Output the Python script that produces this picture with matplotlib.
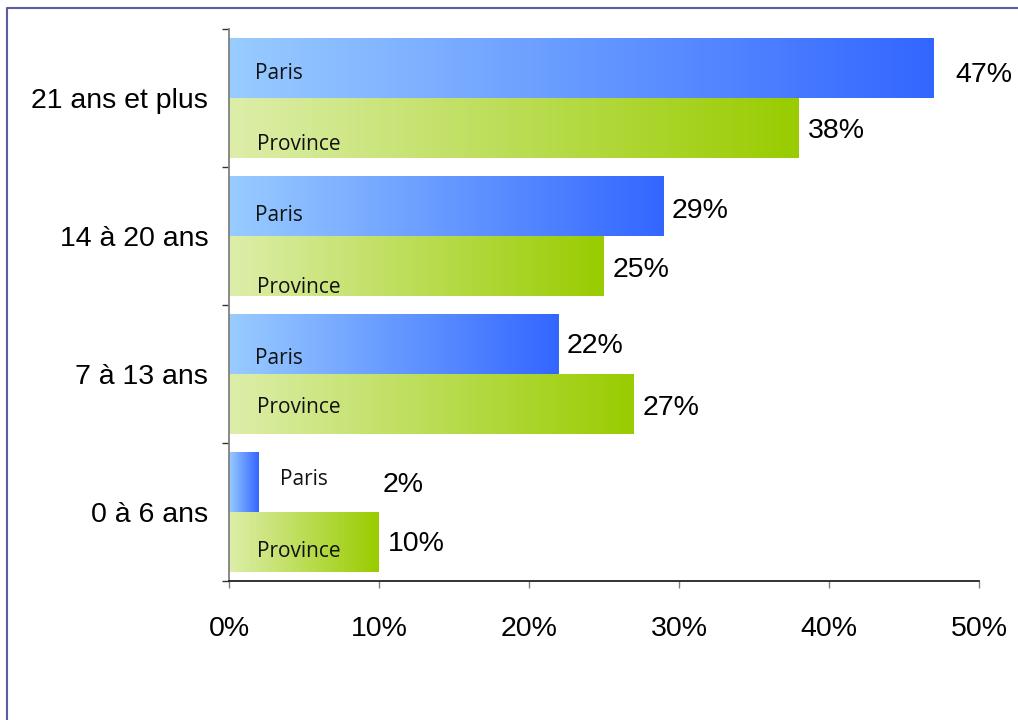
import matplotlib
matplotlib.use('Agg')
import matplotlib.pyplot as plt
import numpy as np
from matplotlib.colors import LinearSegmentedColormap
from matplotlib.lines import Line2D

# ---- data ----
categories = ['0 à 6 ans', '7 à 13 ans', '14 à 20 ans', '21 ans et plus']
paris = [2, 22, 29, 47]
province = [10, 27, 25, 38]
series_names = ['Paris', 'Province']
xticks = [0, 10, 20, 30, 40, 50]
xtick_labels = ['0%', '10%', '20%', '30%', '40%', '50%']

# ---- style ----
W, H = 1018, 720
fig = plt.figure(figsize=(W / 100, H / 100), dpi=100)
ax = fig.add_axes([229 / W, 1 - 581 / H, 750 / W, 552 / H])

cmap_p = LinearSegmentedColormap.from_list('p', ['#99ccff', '#3366ff'])
cmap_v = LinearSegmentedColormap.from_list('v', ['#ddeeaa', '#99cc00'])

ypos = np.arange(len(categories)) + 0.5
h = 0.435
bars_p = ax.barh(ypos + h / 2, paris, height=h, color='none', edgecolor='none')
bars_v = ax.barh(ypos - h / 2, province, height=h, color='none', edgecolor='none')

grad = np.linspace(0, 1, 256).reshape(1, -1)
for bars, cm in ((bars_p, cmap_p), (bars_v, cmap_v)):
    for b in bars:
        x0, y0 = b.get_x(), b.get_y()
        x1, y1 = x0 + b.get_width(), y0 + b.get_height()
        im = ax.imshow(grad, cmap=cm, extent=[x0, x1, y0, y1], aspect='auto',
                       interpolation='bicubic', zorder=2)
        im.set_clip_path(b)

ax.set_xlim(0, 50)
ax.set_ylim(0, len(categories))

# in-bar series labels (x in data units, baseline offset in pixels below bar centre)
in_font = dict(family=['Open Sans', 'DejaVu Sans'], fontsize=15, color='#111111')
paris_lbl_x = [3.4, 1.75, 1.75, 1.75]
paris_lbl_dy = [3, 20, 15.5, 11.5]
prov_lbl_x = [1.85, 1.85, 1.85, 1.85]
prov_lbl_dy = [15, 9, 27, 21.5]
for i, b in enumerate(bars_p):
    ax.annotate(series_names[0], (paris_lbl_x[i], b.get_y() + b.get_height() / 2),
                xytext=(0, -paris_lbl_dy[i]), textcoords='offset pixels',
                ha='left', va='baseline', zorder=3, **in_font)
for i, b in enumerate(bars_v):
    ax.annotate(series_names[1], (prov_lbl_x[i], b.get_y() + b.get_height() / 2),
                xytext=(0, -prov_lbl_dy[i]), textcoords='offset pixels',
                ha='left', va='baseline', zorder=3, **in_font)

# value labels
val_font = dict(family=['Liberation Sans', 'DejaVu Sans'], fontsize=20.5, color='black')
paris_val_dx = [124, 8, 8, 21]
paris_val_dy = [10, 9, 12.5, 14.5]
prov_val_dx = [9, 9, 9, 9]
prov_val_dy = [9, 11, 11, 9.5]
for i, b in enumerate(bars_p):
    ax.annotate(f'{paris[i]}%', (b.get_width(), b.get_y() + b.get_height() / 2),
                xytext=(paris_val_dx[i], -paris_val_dy[i]), textcoords='offset pixels',
                ha='left', va='baseline', **val_font)
for i, b in enumerate(bars_v):
    ax.annotate(f'{province[i]}%', (b.get_width(), b.get_y() + b.get_height() / 2),
                xytext=(prov_val_dx[i], -prov_val_dy[i]), textcoords='offset pixels',
                ha='left', va='baseline', **val_font)

# axes
for s in ('top', 'right'):
    ax.spines[s].set_visible(False)
ax.spines['left'].set_color('#808080')
ax.spines['left'].set_linewidth(1.3)
ax.spines['bottom'].set_color('#222222')
ax.spines['bottom'].set_linewidth(1.3)

ax.set_xticks(xticks)
ax.set_xticklabels(xtick_labels, family=['Liberation Sans', 'DejaVu Sans'], fontsize=20.5)
ax.tick_params(axis='x', length=5, width=1, color='#808080', pad=20)

ax.set_yticks(np.arange(len(categories) + 1))
ax.set_yticklabels([])
ax.set_yticks(ypos, minor=True)
ax.set_yticklabels(categories, minor=True, family=['Liberation Sans', 'DejaVu Sans'], fontsize=20.5)
ax.tick_params(axis='y', which='major', length=5, width=1, color='#333333')
ax.tick_params(axis='y', which='minor', length=0, pad=15)

# frame around the figure (left and top only)
fig.add_artist(Line2D([7 / W, 7 / W, 1], [0, 1 - 7.5 / H, 1 - 7.5 / H],
                      transform=fig.transFigure, color='#5b5ba8', lw=1.5))

fig.savefig('out.png', dpi=100)
